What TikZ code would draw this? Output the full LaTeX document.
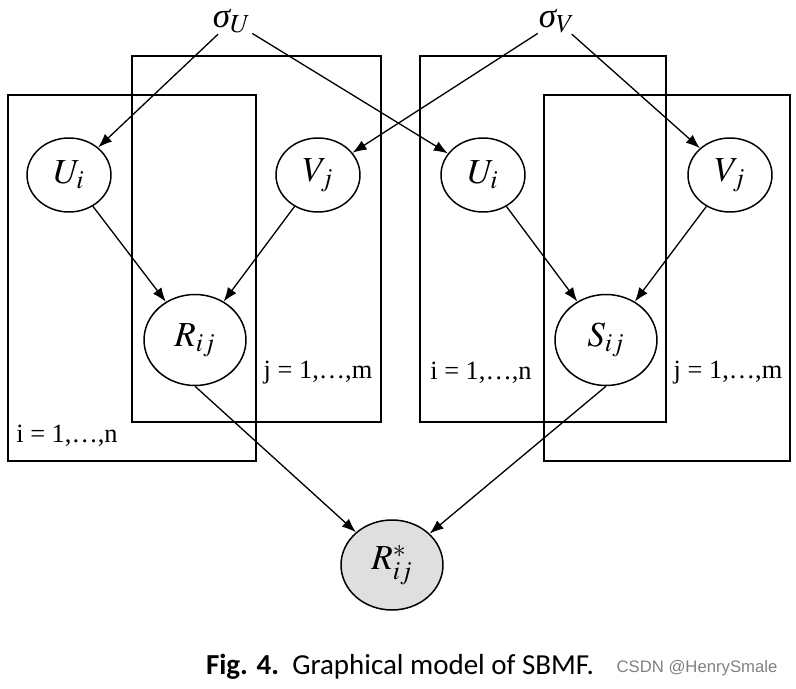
\documentclass[tikz,border=0pt]{standalone}
\usepackage{mathptmx}
\usepackage{fontspec}
\setmainfont{Liberation Serif}
\newfontfamily\capfont{Carlito}
\newfontfamily\wmfont{Liberation Sans}
\usetikzlibrary{arrows.meta,shapes.geometric}
\begin{document}
\begin{tikzpicture}[x=0.02cm,y=-0.02cm]
\tikzset{var/.style={ellipse,draw,line width=0.85pt,minimum width=1.68cm,minimum height=1.48cm,inner sep=0pt,font=\fontsize{20}{24}\selectfont},
obs/.style={var,minimum width=2.04cm,minimum height=1.82cm},
hyp/.style={inner sep=0.5pt,font=\fontsize{20}{22}\selectfont},
plate/.style={line width=0.85pt},
plab/.style={font=\fontsize{15}{18}\selectfont},
edge/.style={line width=0.75pt,-{Latex[length=8pt,width=6pt]}}}
\useasboundingbox (0,0) rectangle (796,689);
% plates
\draw[plate] (8,95) rectangle (256,461);
\draw[plate] (132,56) rectangle (381,422);
\draw[plate] (420,56) rectangle (666,422);
\draw[plate] (544,95) rectangle (790,461);
\node (p1) at (67,436) [plab] {i = 1,\dots,n};
\node (p2) at (318,373) [plab] {j = 1,\dots,m};
\node (p3) at (481,373) [plab] {i = 1,\dots,n};
\node (p4) at (728,373) [plab] {j = 1,\dots,m};
% nodes
\node (sU) at (232,21) [hyp] {$\textit{σ}_U$};
\node (sV) at (557,21) [hyp] {$\textit{σ}_V$};
\node (U1) at (69,175) [var] {$U_i$};
\node (V1) at (318,175) [var] {$V_j$};
\node (U2) at (483,175) [var] {$U_i$};
\node (V2) at (730,175) [var] {$V_j$};
\node (R) at (195,340) [obs] {$R_{ij}$};
\node (S) at (606,340) [obs] {$S_{ij}$};
\node (Rs) at (392,565) [obs,fill=gray!25,minimum height=1.8cm] {$R^*_{ij}$};
\draw[edge] (sU)--(U1);
\draw[edge] (sU)--(U2);
\draw[edge] (sV)--(V1);
\draw[edge] (sV)--(V2);
\draw[edge] (U1)--(R);
\draw[edge] (V1)--(R);
\draw[edge] (U2)--(S);
\draw[edge] (V2)--(S);
\draw[edge] (R.south)--(Rs);
\draw[edge] (S.south)--(Rs);
% caption
\node (cap) at (400,667) [font=\capfont\fontsize{16.5}{19}\selectfont] {\textbf{Fig. 4.}\ \ Graphical model of SBMF.};
\node (wm) at (697,668) [font=\wmfont\fontsize{9.5}{11}\selectfont,text=gray] {CSDN @HenrySmale};
\end{tikzpicture}
\end{document}
